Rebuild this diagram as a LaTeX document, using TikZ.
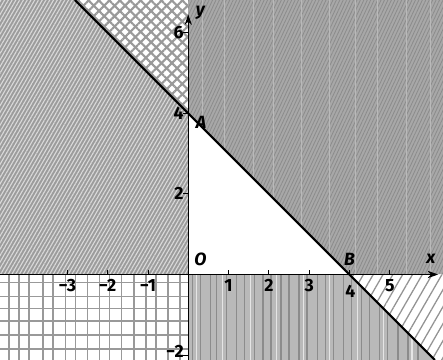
\documentclass[tikz,border=0pt]{standalone}
\usepackage{fontspec}
\setmainfont{Fira Sans}
\usepackage{tikz}
\usetikzlibrary{arrows.meta, patterns.meta, calc}

\begin{document}
\begin{tikzpicture}[
    axis/.style={line width=0.7pt, -{Stealth[length=2.6mm, width=1.8mm]}},
    bound/.style={line width=1.5pt, black},
    tick/.style={line width=0.6pt},
    lbl/.style={font=\fontsize{12.5}{13}\selectfont\bfseries, inner sep=1pt},
    ptlbl/.style={font=\fontsize{12.5}{13}\selectfont\bfseries\itshape, inner sep=1pt}
]
    \useasboundingbox (-4.67,-2.12) rectangle (6.32,6.81);
    \coordinate (O) at (0,0);
    \coordinate (A) at (0,4);
    \coordinate (B) at (4,0);
    \coordinate (top) at (-2.81,6.81);
    \coordinate (bot) at (6.12,-2.12);

    % Regions
    \fill[gray!78] (-4.67,0) -- (O) -- (A) -- (top) -- (-4.67,6.81) -- cycle;
    \fill[pattern={Lines[angle=60, distance=2.3pt, line width=0.8pt]}, pattern color=white!70!gray]
        (-4.67,0) -- (O) -- (A) -- (top) -- (-4.67,6.81) -- cycle;

    \fill[white] (top) -- (0,6.81) -- (A) -- cycle;
    \fill[pattern={Lines[angle=45, distance=5.2pt, line width=1.5pt]}, pattern color=gray!80]
        (top) -- (0,6.81) -- (A) -- cycle;
    \fill[pattern={Lines[angle=-45, distance=5.2pt, line width=1.5pt]}, pattern color=gray!80]
        (top) -- (0,6.81) -- (A) -- cycle;

    \fill[gray!68] (A) -- (0,6.81) -- (6.32,6.81) -- (6.32,0) -- (B) -- cycle;
    \fill[pattern={Lines[angle=65, distance=2.2pt, line width=0.6pt]}, pattern color=gray!90]
        (A) -- (0,6.81) -- (6.32,6.81) -- (6.32,0) -- (B) -- cycle;
    \begin{scope}
        \clip (A) -- (0,6.81) -- (6.32,6.81) -- (6.32,0) -- (B) -- cycle;
        \foreach \xx in {0.35,0.9,1.6,2.1,2.8,3.5,4.15,4.7,5.4,6.0}
            \draw[white!45!gray, line width=0.3pt] (\xx,0) -- (\xx,6.81);
    \end{scope}

    \fill[white] (-4.67,-2.12) rectangle (O);
    \begin{scope}
        \clip (-4.67,-2.12) rectangle (O);
        \foreach \xx in {-4.45,-4.2,-3.95,-3.6,-3.35,-3.05,-2.8,-2.5,-2.2,-1.95,-1.65,-1.35,-1.05,-0.8,-0.5,-0.2}
            \draw[gray!80, line width=1pt] (\xx,-2.12) -- (\xx,0);
        \foreach \yy in {-0.2,-0.55,-0.85,-1.15,-1.5,-1.85}
            \draw[gray!80, line width=1pt] (-4.67,\yy) -- (0,\yy);
    \end{scope}

    \fill[gray!55] (O) -- (B) -- (bot) -- (0,-2.12) -- cycle;
    \begin{scope}
        \clip (O) -- (B) -- (bot) -- (0,-2.12) -- cycle;
        \foreach \xx in {0.1,0.3,0.55,0.7,0.95,1.2,1.4,1.65,1.85,2.05,2.3,2.5,2.75,2.95,3.2,3.4,3.6,3.85,4.05,4.3,4.5,4.75,4.95,5.2,5.45,5.7}
            \draw[gray!90, line width=1pt] (\xx,-2.12) -- (\xx,0);
        \foreach \xx in {0.2,0.85,1.55,2.2,2.85,3.5,4.2,4.85,5.55}
            \draw[white!80!gray, line width=0.8pt] (\xx,-2.12) -- (\xx,0);
    \end{scope}

    \fill[white] (B) -- (6.32,0) -- (6.32,-2.12) -- (bot) -- cycle;
    \fill[pattern={Lines[angle=60, distance=6pt, line width=0.9pt]}, pattern color=gray!85]
        (B) -- (6.32,0) -- (6.32,-2.12) -- (bot) -- cycle;

    % Boundary line
    \draw[bound] (top) -- (bot);

    % Axes
    \draw[axis] (-4.67,0) -- (6.2,0);
    \draw[axis] (0,-2.12) -- (0,6.45);

    % Ticks
    \foreach \xx/\tx in {-3/−3,-2/−2,-1/−1,1/1,2/2,3/3,5/5}
        \draw[tick] (\xx,0) -- (\xx,0.12) node[lbl, below=1pt] at (\xx,-0.05) {\tx};
    \draw[tick] (4,0) -- (4,0.12);
    \node[lbl] at (4.02,-0.42) {4};
    \foreach \yy in {2,6}
        \draw[tick] (-0.12,\yy) -- (0,\yy) node[lbl, left=2pt] at (0,\yy) {\yy};
    \draw[tick] (-0.12,4) -- (0,4);
    \node[lbl, left=2pt] at (0,4) {4};
    \draw[tick] (-0.12,-2) -- (0,-2);
    \node[lbl, left=2pt] at (0,-1.9) {−2};

    % Labels
    \node[ptlbl] (lblO) at (0.3,0.38) {O};
    \node[ptlbl] (lblA) at (0.32,3.78) {A};
    \node[ptlbl] (lblB) at (4.0,0.38) {B};
    \node[ptlbl] (lblx) at (6.02,0.38) {x};
    \node[ptlbl] (lbly) at (0.3,6.5) {y};
\end{tikzpicture}
\end{document}
